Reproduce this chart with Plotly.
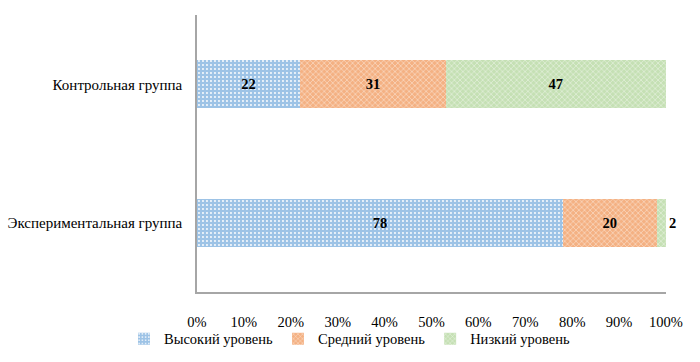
import plotly.graph_objects as go

categories = ["Экспериментальная группа", "Контрольная группа"]
high = [78, 22]
mid = [20, 31]
low = [2, 47]
series_names = ["Высокий уровень", "Средний уровень", "Низкий уровень"]
tick_vals = [0, 10, 20, 30, 40, 50, 60, 70, 80, 90, 100]
tick_text = [f"{v}%" for v in tick_vals]

colors = ["#9DC3E6", "#F4B183", "#C5E0B4"]
shapes = [".", "x", "x"]
FONT = "Liberation Serif"

fig = go.Figure()
for name, vals, col, shp in zip(series_names, [high, mid, low], colors, shapes):
    positions = ["outside" if v < 5 else "inside" for v in vals]
    fig.add_trace(go.Bar(
        y=categories, x=vals, name=name, orientation="h",
        text=[str(v) for v in vals], textposition=positions,
        insidetextanchor="middle",
        textfont=dict(family=FONT, size=14.5, color="black", weight="bold"),
        outsidetextfont=dict(family=FONT, size=14.5, color="black", weight="bold"),
        marker=dict(color=col, line=dict(width=0),
                    pattern=dict(shape=shp, fgcolor="white", bgcolor=col,
                                 size=4, solidity=0.18, fillmode="replace")),
        width=0.35, cliponaxis=False,
    ))

fig.update_layout(
    barmode="stack",
    width=700, height=362,
    margin=dict(l=197, r=34, t=15, b=70, autoexpand=False),
    paper_bgcolor="white", plot_bgcolor="white",
    font=dict(family=FONT, size=14.5, color="black"),
    legend=dict(orientation="h", x=0.5, xanchor="center",
                xref="container", yref="container", y=0.02, yanchor="bottom",
                bgcolor="rgba(0,0,0,0)",
                font=dict(family=FONT, size=14.5), itemwidth=30,
                traceorder="normal"),
    showlegend=True,
)
fig.update_xaxes(range=[0, 100], tickvals=tick_vals, ticktext=tick_text,
                 showgrid=False, zeroline=False, showline=True,
                 linecolor="#A6A6A6", linewidth=1.5, ticks="", automargin=False,
                 ticklabelstandoff=16, tickfont=dict(family=FONT, size=14.5))
fig.update_yaxes(showgrid=False, showline=True, linecolor="#A6A6A6", linewidth=1.5,
                 ticks="", ticklabelstandoff=10, automargin=False,
                 tickfont=dict(family=FONT, size=15))

fig.write_html("out.html", config={"displayModeBar": False},
               post_script="document.body.style.margin='0px';")
